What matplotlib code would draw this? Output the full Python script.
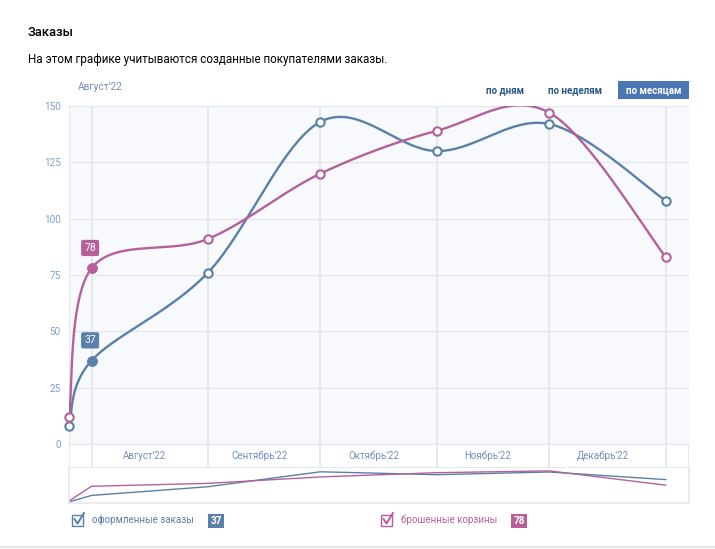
import numpy as np
import matplotlib
matplotlib.use("Agg")
import matplotlib.pyplot as plt
import matplotlib.dates as mdates
from matplotlib.patches import Rectangle
from matplotlib.lines import Line2D

plt.rcParams['font.family'] = ['Roboto', 'DejaVu Sans']

# data
dates = ["2022-07-26", "2022-08-01", "2022-09-01", "2022-10-01",
         "2022-11-01", "2022-12-01", "2023-01-01"]
orders = [8, 37, 76, 143, 130, 142, 108]        # оформленные заказы
carts = [12, 78, 91, 120, 139, 147, 83]         # брошенные корзины
month_starts = ["2022-08-01", "2022-09-01", "2022-10-01",
                "2022-11-01", "2022-12-01", "2023-01-01"]
month_labels = ["Август'22", "Сентябрь'22", "Октябрь'22", "Ноябрь'22", "Декабрь'22"]
y_ticks = [0, 25, 50, 75, 100, 125, 150]
periods = ["по дням", "по неделям", "по месяцам"]

BLUE = "#5a80a9"
PINK = "#b5609a"
GRID = "#e4e7ec"
TICK = "#82a0c9"
LINK = "#2a5885"

x = mdates.date2num(np.array(dates, dtype="datetime64[D]"))
bounds = mdates.date2num(np.array(month_starts, dtype="datetime64[D]"))
x_left = x[0]
x_right = bounds[-1] + 6.2


# smooth line through the points (catmull-rom, like the site draws it)
def smooth(xs, ys, n=60):
    pts = np.column_stack([xs, ys]).astype(float)
    ext = np.vstack([pts[0], pts, pts[-1]])
    t = np.linspace(0, 1, n)[:, None]
    out = []
    for i in range(len(pts) - 1):
        p0, p1, p2, p3 = ext[i], ext[i + 1], ext[i + 2], ext[i + 3]
        seg = 0.5 * (2 * p1 + (p2 - p0) * t
                     + (2 * p0 - 5 * p1 + 4 * p2 - p3) * t ** 2
                     + (3 * p1 - p0 - 3 * p2 + p3) * t ** 3)
        out.append(seg)
    res = np.vstack(out)
    return res[:, 0], res[:, 1]


W, H = 715, 549
fig = plt.figure(figsize=(W / 100, H / 100), dpi=100)


def fx(px):
    return px / W


def fy(py):
    return 1 - py / H


# header texts
fig.text(fx(28), fy(33), "Заказы", fontsize=9.3, fontweight="medium",
         color="#000000", va="center")
fig.text(fx(28), fy(59), "На этом графике учитываются созданные покупателями заказы.",
         fontsize=8.35, color="#000000", va="center")
fig.text(fx(78), fy(87), "Август'22", fontsize=7.3, color="#7a8db5", va="center")

# period switch
fig.text(fx(505), fy(90), periods[0], fontsize=7, fontweight="bold",
         color=LINK, ha="center", va="center")
fig.text(fx(575), fy(90), periods[1], fontsize=7, fontweight="bold",
         color=LINK, ha="center", va="center")
fig.patches.append(Rectangle((fx(618), fy(99)), fx(71), 18 / H,
                             transform=fig.transFigure, facecolor="#4a76b4",
                             edgecolor="none"))
fig.text(fx(653.5), fy(90), periods[2], fontsize=7, fontweight="bold",
         color="white", ha="center", va="center")

# main chart
ax = fig.add_axes([fx(69), fy(444), fx(620), (444 - 106) / H])
ax.set_facecolor("#f7f9fc")
ax.set_xlim(x_left, x_right)
ax.set_ylim(0, 150)
for s in ax.spines.values():
    s.set_visible(False)
ax.set_yticks(y_ticks)
ax.set_yticklabels([str(v) for v in y_ticks])
ax.tick_params(axis="y", length=0, pad=6, labelsize=7.2, labelcolor=TICK)
ax.set_xticks([])
for v in y_ticks:
    ax.axhline(v, color=GRID, lw=1, zorder=1)
for b in list(bounds) + [x_left]:
    ax.axvline(b, color=GRID, lw=1.3, zorder=1)

for vals, col in [(orders, BLUE), (carts, PINK)]:
    sx, sy = smooth(x, vals)
    ax.plot(sx, sy, color=col, lw=1.7, zorder=3, solid_capstyle="round")
    ax.plot(x, vals, "o", ms=6, mfc="white", mec=col, mew=1.5,
            zorder=4, clip_on=False)
    ax.plot(x[1], vals[1], "o", ms=6.5, mfc=col, mec=col, zorder=5,
            clip_on=False)
    ax.annotate(str(vals[1]), (x[1], vals[1]), xytext=(-1, 11),
                textcoords="offset points", ha="center", va="bottom",
                fontsize=7.5, color="white", zorder=6,
                bbox=dict(boxstyle="round,pad=0.3,rounding_size=0.2",
                          fc=col, ec="none"))

# month band under the chart
band = fig.add_axes([fx(69), fy(468), fx(620), 24 / H])
band.set_xlim(x_left, x_right)
band.set_ylim(0, 1)
band.set_xticks([])
band.set_yticks([])
for s in band.spines.values():
    s.set_visible(False)
band.axhline(0, color=GRID, lw=1.5)
band.axhline(1, color=GRID, lw=1.5)
for b in list(bounds) + [x_left, x_right]:
    band.axvline(b, color=GRID, lw=1.3)
for i, lab in enumerate(month_labels):
    band.annotate(lab, ((bounds[i] + bounds[i + 1]) / 2, 0.5),
                  xytext=(-5, 0), textcoords="offset pixels", ha="center",
                  va="center", fontsize=7, color="#6f91c0")

# navigator
nav = fig.add_axes([fx(69), fy(503), fx(620), 35 / H])
nav.set_xlim(x_left, x_right)
nav.set_ylim(3, 160)
nav.set_xticks([])
nav.set_yticks([])
for s in nav.spines.values():
    s.set_color(GRID)
    s.set_linewidth(1.2)
nav.spines["top"].set_visible(False)
nav.plot(x, orders, color=BLUE, lw=1)
nav.plot(x, carts, color=PINK, lw=1)

# legend
for px, lab, vals, col, bx in [(72, "оформленные заказы", orders, BLUE, 208),
                                (381, "брошенные корзины", carts, PINK, 511)]:
    fig.patches.append(Rectangle((fx(px), fy(526)), fx(11), 11 / H,
                                 transform=fig.transFigure, facecolor="white",
                                 edgecolor=col, lw=1))
    fig.lines.append(Line2D([fx(px + 2.5), fx(px + 5.5), fx(px + 12)],
                            [fy(519), fy(523.5), fy(513)],
                            transform=fig.transFigure, color=col, lw=1.4))
    fig.text(fx(px + 20), fy(520), lab, fontsize=7.0, color=col, va="center")
    fig.patches.append(Rectangle((fx(bx), fy(528)), fx(16), 14 / H,
                                 transform=fig.transFigure, facecolor=col,
                                 edgecolor="none"))
    fig.text(fx(bx + 8), fy(521), str(vals[1]), fontsize=7.2, color="white",
             fontweight="bold", ha="center", va="center")

fig.lines.append(Line2D([0, 1], [fy(546.5), fy(546.5)],
                        transform=fig.transFigure, color="#e3e4e8", lw=1.5))

fig.savefig("out.png", dpi=100, facecolor="white")
